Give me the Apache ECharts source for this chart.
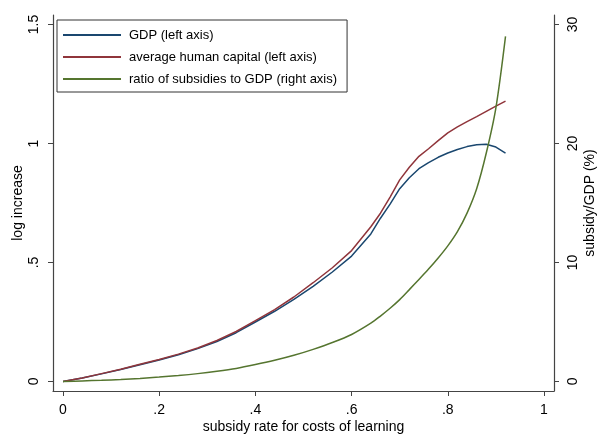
<!DOCTYPE html>
<html><head><meta charset="utf-8">
<script src="https://cdn.jsdelivr.net/npm/echarts@6/dist/echarts.min.js"></script>
<style>html,body{margin:0;padding:0;background:#fff}#c{width:598px;height:435px}</style>
</head><body><div id="c"></div>
<script>
var subsidyRate = [0,.04,.08,.12,.16,.2,.24,.28,.32,.36,.4,.44,.48,.52,.56,.6,.64,.66,.68,.70,.72,.74,.76,.78,.80,.82,.84,.86,.88,.90,.92];
var gdp = [0,.015,.032,.05,.07,.09,.112,.138,.168,.205,.25,.295,.345,.40,.46,.527,.62,.686,.745,.81,.856,.894,.92,.942,.96,.975,.987,.995,.997,.985,.96];
var humanCapital = [0,.015,.033,.051,.072,.092,.115,.141,.172,.21,.256,.302,.355,.415,.478,.55,.65,.707,.775,.847,.90,.946,.978,1.012,1.045,1.07,1.092,1.113,1.135,1.157,1.178];
var subsidyRatio = [0,.05,.1,.17,.26,.37,.5,.66,.86,1.1,1.42,1.78,2.2,2.7,3.27,3.95,4.9,5.5,6.15,6.88,7.72,8.58,9.45,10.38,11.4,12.6,14.15,16.2,19.2,23.0,29.0];
var xTicks = [0,.2,.4,.6,.8,1];
var yLeftTicks = [0,.5,1,1.5];
var yRightTicks = [0,10,20,30];
var seriesNames = ['GDP (left axis)','average human capital (left axis)','ratio of subsidies to GDP (right axis)'];

function pairs(ys){ return subsidyRate.map(function(x,i){ return [x, ys[i]]; }); }
function fmt(v){ var s = String(Math.round(v*100)/100); return s.replace(/^0\./,'.'); }
var font = 'Liberation Sans, Arial, sans-serif';
var axisCol = '#444';
var chart = echarts.init(document.getElementById('c'));
chart.setOption({
  animation:false,
  backgroundColor:'#fff',
  grid:{left:53,right:44,top:15,bottom:44,containLabel:false,outerBoundsMode:'none'},
  legend:{
    orient:'vertical',left:57,top:20,padding:[7,10,5,6],itemGap:6,
    itemWidth:58,itemHeight:2,icon:'rect',
    borderColor:'#333',borderWidth:1,
    textStyle:{fontFamily:font,fontSize:13,color:'#000',lineHeight:16,padding:[0,0,0,3]},
    data:seriesNames
  },
  xAxis:{
    type:'value',min:-0.0208,max:1.0208,
    name:'subsidy rate for costs of learning',nameLocation:'middle',nameGap:29,nameMoveOverlap:false,
    nameTextStyle:{fontFamily:font,fontSize:14,color:'#000'},
    axisLine:{show:true,onZero:false,lineStyle:{color:axisCol,width:1.2}},
    axisTick:{show:true,length:5,lineStyle:{color:axisCol},customValues:xTicks},
    axisLabel:{fontFamily:font,fontSize:14,color:'#000',margin:12,customValues:xTicks,formatter:fmt},
    splitLine:{show:false}
  },
  yAxis:[{
    type:'value',min:-0.04,max:1.54,position:'left',
    name:'log increase',nameLocation:'middle',nameGap:28,nameRotate:90,nameMoveOverlap:false,
    nameTextStyle:{fontFamily:font,fontSize:14,color:'#000'},
    axisLine:{show:true,onZero:false,lineStyle:{color:axisCol,width:1.2}},
    axisTick:{show:true,length:5,lineStyle:{color:axisCol},customValues:yLeftTicks},
    axisLabel:{fontFamily:font,fontSize:14,color:'#000',rotate:90,margin:12,customValues:yLeftTicks,formatter:fmt},
    splitLine:{show:false}
  },{
    type:'value',min:-0.8,max:30.8,position:'right',
    name:'subsidy/GDP (%)',nameLocation:'middle',nameGap:29,nameRotate:90,nameMoveOverlap:false,
    nameTextStyle:{fontFamily:font,fontSize:14,color:'#000'},
    axisLine:{show:true,onZero:false,lineStyle:{color:axisCol,width:1.2}},
    axisTick:{show:true,length:5,lineStyle:{color:axisCol},customValues:yRightTicks},
    axisLabel:{fontFamily:font,fontSize:14,color:'#000',rotate:90,margin:12,customValues:yRightTicks,formatter:fmt},
    splitLine:{show:false}
  }],
  series:[
    {name:seriesNames[0],type:'line',yAxisIndex:0,data:pairs(gdp),symbol:'none',lineStyle:{color:'#1a476f',width:1.5},itemStyle:{color:'#1a476f'}},
    {name:seriesNames[1],type:'line',yAxisIndex:0,data:pairs(humanCapital),symbol:'none',lineStyle:{color:'#90353b',width:1.5},itemStyle:{color:'#90353b'}},
    {name:seriesNames[2],type:'line',yAxisIndex:1,data:pairs(subsidyRatio),symbol:'none',smooth:0.3,lineStyle:{color:'#55752f',width:1.5},itemStyle:{color:'#55752f'}}
  ]
});
</script></body></html>
